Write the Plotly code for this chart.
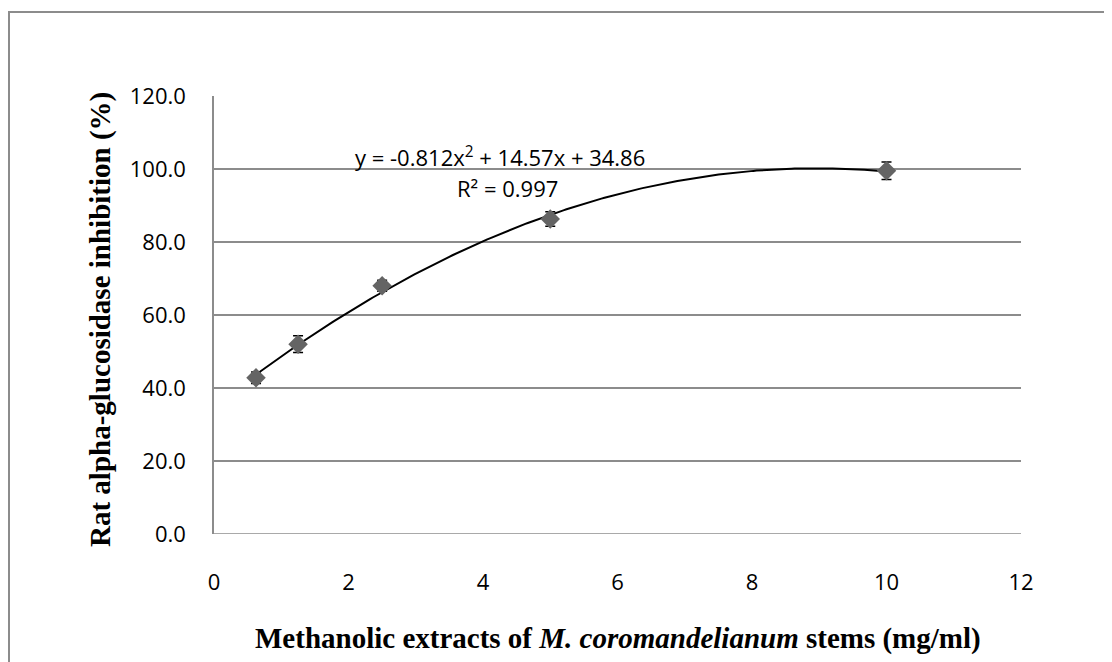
import numpy as np
import plotly.graph_objects as go

# Data
concentration = [0.625, 1.25, 2.5, 5.0, 10.0]
inhibition = [42.8, 52.0, 68.0, 86.3, 99.5]
error = [1.6, 2.3, 1.5, 2.0, 2.4]

x_ticks = [0, 2, 4, 6, 8, 10, 12]
y_ticks = [0, 20, 40, 60, 80, 100, 120]
y_tick_text = [f"{v:.1f}" for v in y_ticks]

equation_text = "y = -0.812x<sup>2</sup> + 14.57x + 34.86"
r2_text = "R² = 0.997"
x_title = "Methanolic extracts of <i>M. coromandelianum</i> stems (mg/ml)"
y_title = "Rat alpha-glucosidase inhibition (%)"

# Polynomial trendline fitted from the data
coef = np.polyfit(concentration, inhibition, 2)
xs = np.linspace(min(concentration), max(concentration), 200)
ys = np.polyval(coef, xs)

# layout geometry (figure px; page has an 8px body offset)
W, H = 1104, 654
L, T, PW, PH = 206, 88, 807, 438
R, B = W - L - PW, H - T - PH
bottom = T + PH

def px(x):
    return (x - L) / PW

def py(y):
    return (bottom - y) / PH

fig = go.Figure()
fig.add_trace(go.Scatter(
    x=xs, y=ys, mode="lines",
    line=dict(color="black", width=2), hoverinfo="skip", showlegend=False))
fig.add_trace(go.Scatter(
    x=concentration, y=inhibition, mode="markers",
    marker=dict(symbol="diamond", size=15, color="#646464"),
    error_y=dict(type="data", array=error, visible=True, color="black",
                 thickness=1.5, width=5),
    showlegend=False))

gray = "#8c8c8c"
tickfont = dict(family="Open Sans, Liberation Sans, sans-serif", size=22, color="black")
fig.update_layout(
    width=W, height=H,
    margin=dict(l=L, r=R, t=T, b=B),
    paper_bgcolor="white", plot_bgcolor="white",
    font=dict(family="Open Sans, Liberation Sans, sans-serif", size=22, color="black"),
    xaxis=dict(range=[0, 12], tickvals=x_ticks, showgrid=False, zeroline=False,
               showline=False, ticks="", ticklabelstandoff=33, tickfont=tickfont),
    yaxis=dict(range=[0, 120], tickvals=y_ticks, ticktext=y_tick_text,
               showgrid=True, gridcolor=gray, gridwidth=1.5, zeroline=False,
               showline=True, linecolor=gray, linewidth=1.5, ticks="",
               ticklabelstandoff=22, tickfont=tickfont),
)

# Outer chart border
fig.add_shape(type="rect", xref="paper", yref="paper",
              x0=px(1), x1=px(W + 20), y0=py(H + 20), y1=py(4),
              line=dict(color=gray, width=2), layer="below")
# bottom axis line (gridline at 0)
fig.add_shape(type="line", xref="paper", yref="y", x0=0, x1=1, y0=0, y1=0,
              line=dict(color=gray, width=1.5))

fig.add_annotation(text=equation_text, x=4.25, y=103.3, xref="x", yref="y",
                   showarrow=False, font=dict(size=22), xanchor="center", yanchor="middle")
fig.add_annotation(text=r2_text, x=4.37, y=94.8, xref="x", yref="y",
                   showarrow=False, font=dict(size=22), xanchor="center", yanchor="middle")

serif = dict(family="Liberation Serif, Times New Roman, serif", size=29, color="black")
fig.add_annotation(text="<b>" + x_title + "</b>", xref="paper", yref="paper",
                   x=0.5, y=py(630), showarrow=False, font=serif,
                   xanchor="center", yanchor="middle")
fig.add_annotation(text="<b>" + y_title + "</b>", xref="paper", yref="paper",
                   x=px(92), y=py(312), showarrow=False, textangle=-90, font=serif,
                   xanchor="center", yanchor="middle")

fig.write_html("out.html")
